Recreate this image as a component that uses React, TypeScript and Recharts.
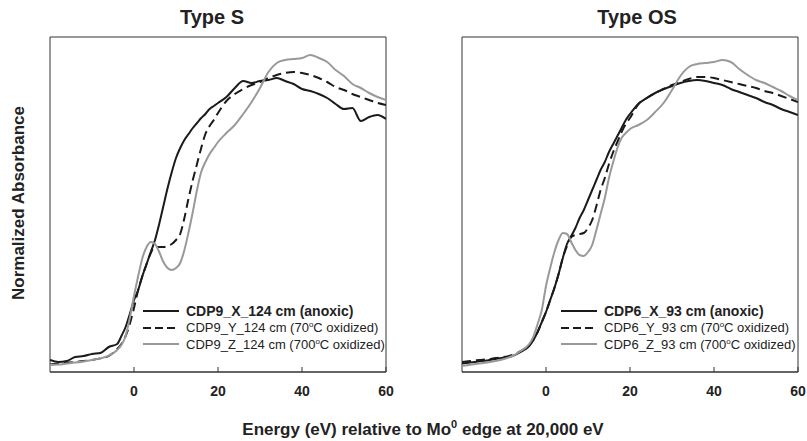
import { LineChart, Line, XAxis, YAxis, Legend, ReferenceArea } from 'recharts';

// energy grid, eV relative to the Mo0 edge
const energy = [
  -20, -18, -16, -14, -12, -10, -8, -6, -4, -3, -2, -1, 0, 1, 2, 3, 4, 5, 6, 7, 8, 9, 10, 11, 12, 13, 14, 15, 16,
  17, 18, 19, 20, 22, 24, 26, 28, 30, 32, 34, 36, 38, 40, 42, 44, 46, 48, 50, 52, 54, 56, 58, 60,
];

// Type S (CDP9, 124 cm)
const sAnoxic = [
  0.01, 0.0, 0.005, 0.025, 0.03, 0.04, 0.045, 0.075, 0.09, 0.13, 0.175, 0.24, 0.31, 0.36, 0.43, 0.49, 0.55, 0.61,
  0.69, 0.78, 0.87, 0.95, 1.02, 1.07, 1.11, 1.14, 1.17, 1.195, 1.22, 1.24, 1.265, 1.28, 1.295, 1.325, 1.37, 1.405,
  1.395, 1.405, 1.41, 1.42, 1.405, 1.39, 1.365, 1.355, 1.34, 1.32, 1.29, 1.265, 1.27, 1.205, 1.225, 1.235, 1.215,
];
const s70C = [
  -0.012, -0.008, -0.004, 0.0, 0.005, 0.01, 0.018, 0.03, 0.065, 0.09, 0.13, 0.19, 0.27, 0.36, 0.43, 0.49, 0.545,
  0.575, 0.575, 0.575, 0.58, 0.59, 0.61, 0.64, 0.72, 0.82, 0.91, 0.99, 1.07, 1.14, 1.18, 1.21, 1.245, 1.305, 1.34,
  1.365, 1.385, 1.4, 1.42, 1.435, 1.445, 1.45, 1.445, 1.435, 1.42, 1.4, 1.375, 1.36, 1.34, 1.325, 1.31, 1.295, 1.285,
];
const s700C = [
  -0.015, -0.013, -0.008, -0.003, 0.003, 0.01, 0.018, 0.032, 0.06, 0.085, 0.13, 0.22, 0.33, 0.43, 0.52, 0.575, 0.6,
  0.59, 0.55, 0.5, 0.47, 0.46, 0.47, 0.495, 0.56, 0.65, 0.75, 0.86, 0.95, 1.0, 1.04, 1.07, 1.1, 1.145, 1.185, 1.24,
  1.3, 1.37, 1.45, 1.495, 1.51, 1.515, 1.52, 1.535, 1.52, 1.5, 1.46, 1.43, 1.39, 1.37, 1.345, 1.325, 1.31,
];

// Type OS (CDP6, 93 cm)
const osAnoxic = [
  -0.007, -0.002, 0.003, 0.008, 0.015, 0.022, 0.03, 0.05, 0.08, 0.11, 0.15, 0.2, 0.25, 0.31, 0.37, 0.44, 0.52, 0.59,
  0.63, 0.67, 0.72, 0.76, 0.81, 0.86, 0.91, 0.96, 1.0, 1.05, 1.09, 1.13, 1.17, 1.21, 1.24, 1.29, 1.32, 1.345, 1.365,
  1.38, 1.395, 1.405, 1.41, 1.405, 1.395, 1.385, 1.365, 1.35, 1.335, 1.32, 1.3, 1.285, 1.265, 1.25, 1.235,
];
const os70C = [
  0.0, 0.005, 0.01, 0.013, 0.02, 0.025, 0.035, 0.055, 0.085, 0.11, 0.15, 0.2, 0.25, 0.31, 0.37, 0.44, 0.52, 0.58,
  0.625, 0.635, 0.64, 0.645, 0.67, 0.71, 0.78, 0.86, 0.92, 0.99, 1.05, 1.1, 1.15, 1.19, 1.22, 1.29, 1.32, 1.345,
  1.365, 1.385, 1.4, 1.415, 1.425, 1.425, 1.42, 1.41, 1.4, 1.39, 1.38, 1.37, 1.355, 1.345, 1.33, 1.315, 1.3,
];
const os700C = [
  -0.02, -0.014, -0.008, -0.002, 0.005, 0.015, 0.03, 0.055, 0.09, 0.127, 0.19, 0.26, 0.38, 0.47, 0.55, 0.61, 0.645,
  0.64, 0.6, 0.56, 0.535, 0.53, 0.55, 0.585, 0.66, 0.74, 0.82, 0.92, 1.0, 1.07, 1.12, 1.145, 1.165, 1.185, 1.21,
  1.25, 1.295, 1.36, 1.43, 1.475, 1.49, 1.495, 1.5, 1.51, 1.5, 1.465, 1.435, 1.41, 1.395, 1.375, 1.355, 1.33, 1.31,
];

const xTicks = [0, 20, 40, 60];

const FONT = '"Liberation Sans", Arial, Helvetica, sans-serif';
const INK = '#1a1a1a';
const GREY = '#999999';
const FRAME = '#333333';
const X_DOMAIN = [-20, 60];
const Y_DOMAIN = [-0.05, 1.625];

const toRows = (a: number[], b: number[], c: number[]) =>
  energy.map((e, i) => ({ e, x: a[i], y: b[i], z: c[i] }));

function BottomTick({ x, y, payload }: any) {
  return (
    <g>
      <line x1={x} x2={x} y1={y} y2={y - 5} stroke={FRAME} />
      <text x={x} y={y + 24} textAnchor="middle" fontFamily={FONT} fontWeight="bold" fontSize={14} fill="#222">
        {payload.value}
      </text>
    </g>
  );
}

function Swatch({ dashed, color }: { dashed?: boolean; color: string }) {
  return (
    <svg width={36} height={4} style={{ marginRight: 7, flex: 'none' }}>
      <line x1={0} x2={36} y1={2} y2={2} stroke={color} strokeWidth={2} strokeDasharray={dashed ? '8 4' : undefined} />
    </svg>
  );
}

function PanelLegend({ sample, depth }: { sample: string; depth: string }) {
  const row = { display: 'flex', alignItems: 'center', height: 16.6, whiteSpace: 'nowrap' as const };
  const oxidized = (tag: string, t: string) => (
    <span style={{ fontSize: 13 }}>
      {sample}_{tag}_{depth} cm ({t}
      <sup style={{ fontSize: 8, verticalAlign: 'top', lineHeight: '10px' }}>o</sup>C oxidized)
    </span>
  );
  return (
    <div style={{ fontFamily: FONT, color: '#222' }}>
      <div style={row}>
        <Swatch color={INK} />
        <span style={{ fontSize: 14, fontWeight: 'bold' }}>
          {sample}_X_{depth} cm (anoxic)
        </span>
      </div>
      <div style={row}>
        <Swatch color={INK} dashed />
        {oxidized('Y', '70')}
      </div>
      <div style={row}>
        <Swatch color={GREY} />
        {oxidized('Z', '700')}
      </div>
    </div>
  );
}

function Panel({ rows, sample, depth, left, legendLeft }: any) {
  return (
    <div style={{ position: 'absolute', left, top: 0 }}>
      <LineChart width={420} height={441} data={rows} margin={{ top: 37, right: 34, bottom: 39, left: 50 }}>
        <XAxis
          dataKey="e"
          type="number"
          domain={X_DOMAIN}
          ticks={xTicks}
          interval={0}
          height={30}
          tickSize={0}
          tickMargin={0}
          tickLine={false}
          axisLine={{ stroke: FRAME }}
          tick={<BottomTick />}
          allowDataOverflow
        />
        <YAxis type="number" domain={Y_DOMAIN} hide allowDataOverflow />
        <ReferenceArea
          x1={X_DOMAIN[0]}
          x2={X_DOMAIN[1]}
          y1={Y_DOMAIN[0]}
          y2={Y_DOMAIN[1]}
          fill="none"
          stroke={FRAME}
          strokeWidth={1}
          ifOverflow="visible"
        />
        <Legend
          layout="vertical"
          align="center"
          verticalAlign="middle"
          wrapperStyle={{ left: legendLeft, top: 303, width: 260 }}
          content={() => <PanelLegend sample={sample} depth={depth} />}
        />
        <Line type="monotone" dataKey="x" stroke={INK} strokeWidth={2} dot={false} isAnimationActive={false} />
        <Line type="monotone" dataKey="y" stroke={INK} strokeWidth={2} strokeDasharray="9 5" dot={false} isAnimationActive={false} />
        <Line type="monotone" dataKey="z" stroke={GREY} strokeWidth={2} dot={false} isAnimationActive={false} />
      </LineChart>
    </div>
  );
}

export default function App() {
  return (
    <div style={{ position: 'absolute', left: 0, top: 0, width: 807, height: 441, background: '#fff', overflow: 'hidden' }}>
      <Panel rows={toRows(sAnoxic, s70C, s700C)} sample="CDP9" depth="124" left={0} legendLeft={143} />
      <Panel rows={toRows(osAnoxic, os70C, os700C)} sample="CDP6" depth="93" left={412} legendLeft={149} />
      <svg width={807} height={441} style={{ position: 'absolute', left: 0, top: 0, pointerEvents: 'none' }}>
        <g fontFamily={FONT} fontWeight="bold" fill="#222">
          <text x={212} y={24} fontSize={20} textAnchor="middle">Type S</text>
          <text x={637} y={24} fontSize={20} textAnchor="middle">Type OS</text>
          <text x={24} y={203} fontSize={17} textAnchor="middle" transform="rotate(-90 24 203)">
            Normalized Absorbance
          </text>
          <text x={423} y={435} fontSize={17} textAnchor="middle">
            Energy (eV) relative to Mo
            <tspan fontSize={11} dy={-7}>0</tspan>
            <tspan dy={7}> edge at 20,000 eV</tspan>
          </text>
        </g>
      </svg>
    </div>
  );
}
